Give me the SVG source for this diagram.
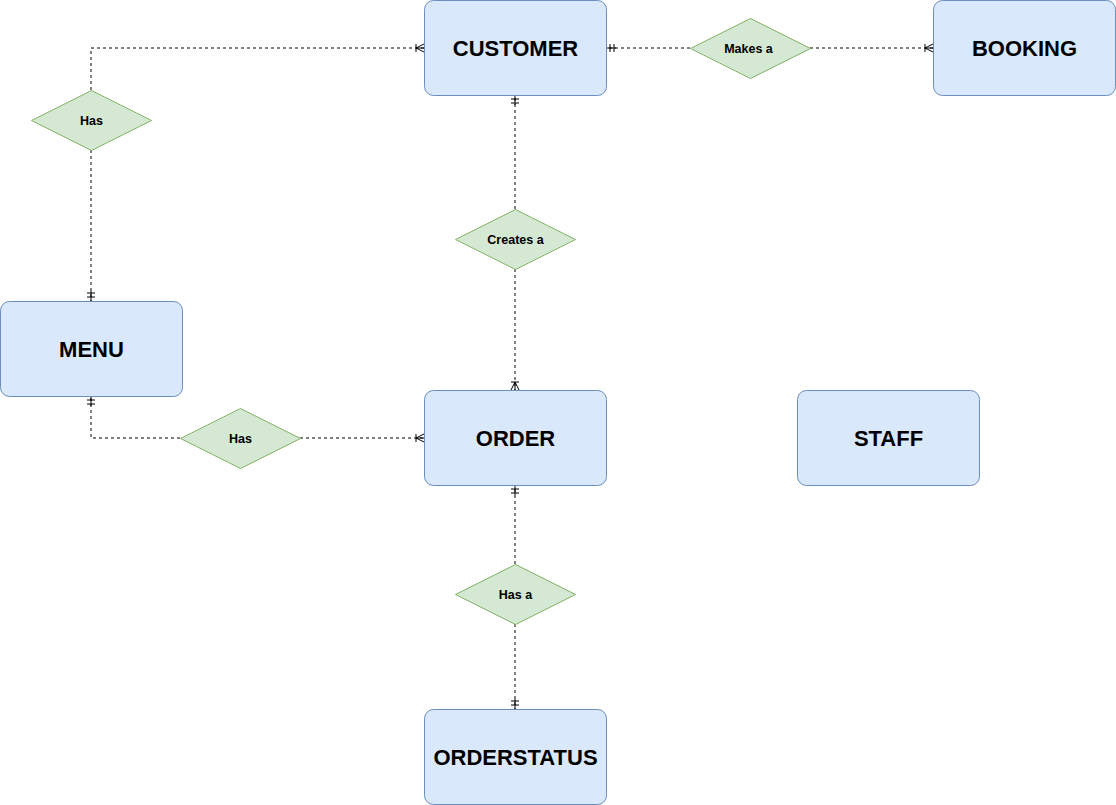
<svg xmlns="http://www.w3.org/2000/svg" width="1116" height="805" viewBox="0 0 1116 805">
<style>
.ent{fill:#dae8fc;stroke:#6c8ebf;stroke-width:1}
.rel{fill:#d5e8d4;stroke:#82b366;stroke-width:1}
.et{font-family:"Liberation Sans",Arial,sans-serif;font-weight:bold;font-size:22px;fill:#000;text-anchor:middle;dominant-baseline:central}
.rt{font-family:"Liberation Sans",Arial,sans-serif;font-weight:bold;font-size:12.5px;fill:#000;text-anchor:middle;dominant-baseline:central}
.c{fill:none;stroke:#000;stroke-width:1;stroke-dasharray:3 3}
.m{fill:none;stroke:#000;stroke-width:1}
</style>
<defs>
<marker id="many" markerUnits="userSpaceOnUse" markerWidth="12" markerHeight="12" viewBox="0 0 12 12" refX="10" refY="6" orient="auto" overflow="visible">
<path class="m" d="M2,6 L10,6 M2,6 L10,2 M2,6 L10,10 M2,2 L2,10"/>
</marker>
<marker id="one" markerUnits="userSpaceOnUse" markerWidth="12" markerHeight="12" viewBox="0 0 12 12" refX="10" refY="6" orient="auto" overflow="visible">
<path class="m" d="M0,6 L10,6 M6,2 L6,10 M2,2 L2,10"/>
</marker>
</defs>
<g id="connectors">
<path class="c" d="M91,90 V48 H424" marker-end="url(#many)"/>
<path class="c" d="M91,150 V301" marker-end="url(#one)"/>
<path class="c" d="M690,48 H606" marker-end="url(#one)"/>
<path class="c" d="M810,48 H933" marker-end="url(#many)"/>
<path class="c" d="M515,209 V95" marker-end="url(#one)"/>
<path class="c" d="M515,269 V390" marker-end="url(#many)"/>
<path class="c" d="M180,438 H91 V396" marker-end="url(#one)"/>
<path class="c" d="M300,438 H424" marker-end="url(#many)"/>
<path class="c" d="M515,564 V485" marker-end="url(#one)"/>
<path class="c" d="M515,624 V709" marker-end="url(#one)"/>
</g>
<g id="customer"><rect class="ent" x="424.5" y="0.5" width="182" height="95" rx="9"/><text class="et" x="515.5" y="48">CUSTOMER</text></g>
<g id="booking"><rect class="ent" x="933.5" y="0.5" width="182" height="95" rx="9"/><text class="et" x="1024.5" y="48">BOOKING</text></g>
<g id="menu"><rect class="ent" x="0.5" y="301.5" width="182" height="95" rx="9"/><text class="et" x="91.5" y="349">MENU</text></g>
<g id="order"><rect class="ent" x="424.5" y="390.5" width="182" height="95" rx="9"/><text class="et" x="515.5" y="438">ORDER</text></g>
<g id="staff"><rect class="ent" x="797.5" y="390.5" width="182" height="95" rx="9"/><text class="et" x="888.5" y="438">STAFF</text></g>
<g id="orderstatus"><rect class="ent" x="424.5" y="709.5" width="182" height="95" rx="9"/><text class="et" x="515.5" y="757">ORDERSTATUS</text></g>
<g id="has-menu"><polygon class="rel" points="91.5,90.5 151.5,120.5 91.5,150.5 31.5,120.5"/><text class="rt" x="91.5" y="120.5">Has</text></g>
<g id="makes-a"><polygon class="rel" points="750.5,18.5 810.5,48.5 750.5,78.5 690.5,48.5"/><text class="rt" x="748.5" y="48.5">Makes a</text></g>
<g id="creates-a"><polygon class="rel" points="515.5,209.5 575.5,239.5 515.5,269.5 455.5,239.5"/><text class="rt" x="515.5" y="239.5">Creates a</text></g>
<g id="has-order"><polygon class="rel" points="240.5,408.5 300.5,438.5 240.5,468.5 180.5,438.5"/><text class="rt" x="240.5" y="438.5">Has</text></g>
<g id="has-a"><polygon class="rel" points="515.5,564.5 575.5,594.5 515.5,624.5 455.5,594.5"/><text class="rt" x="515.5" y="594.5">Has a</text></g>
</svg>
